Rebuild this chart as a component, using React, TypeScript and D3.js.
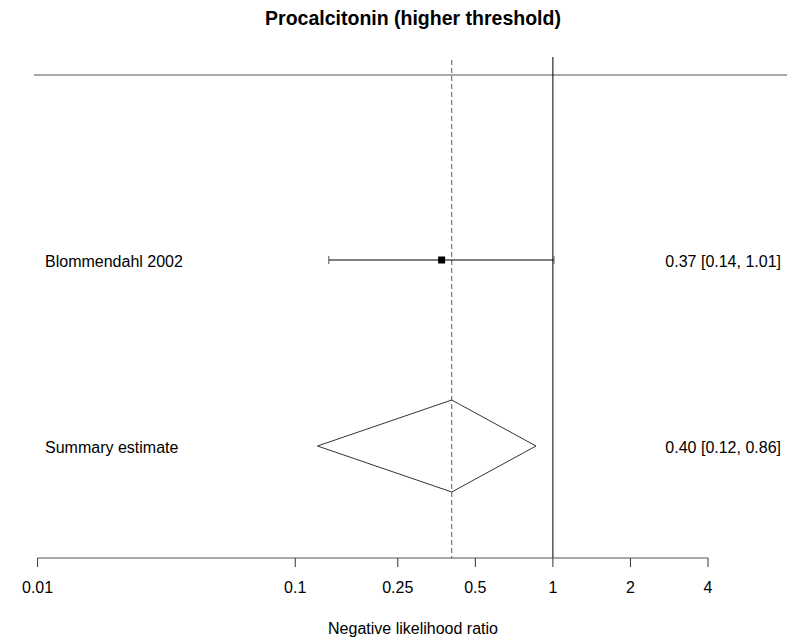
import React from "react";
import * as d3 from "d3";

const studies = ["Blommendahl 2002"];
const estimates = [0.37];
const lowers = [0.135];
const uppers = [1.01];
const labelsRight = ["0.37 [0.14, 1.01]"];
const summaryLabel = "Summary estimate";
const summaryEst = [0.405];
const summaryLow = [0.122];
const summaryHigh = [0.86];
const summaryText = ["0.40 [0.12, 0.86]"];
const tickValues = [0.01, 0.1, 0.25, 0.5, 1, 2, 4];
const tickLabels = ["0.01", "0.1", "0.25", "0.5", "1", "2", "4"];

export default function App() {
  const W = 787, H = 642;
  const x = d3.scaleLog().domain([0.01, 4]).range([37.6, 708]);
  const yRow = d3.scalePoint<string>().domain([...studies, summaryLabel]).range([260, 446]);
  const axisY = 558;
  const font = "Liberation Sans, Arial, sans-serif";
  const sy = yRow(summaryLabel)!;
  const dh = 46;
  const diamond = d3.line()([
    [x(summaryLow[0]), sy],
    [x(summaryEst[0]), sy - dh],
    [x(summaryHigh[0]), sy],
    [x(summaryEst[0]), sy + dh],
    [x(summaryLow[0]), sy],
  ] as [number, number][]);
  return (
    <svg width={W} height={H} style={{ position: "absolute", left: 0, top: 0, background: "#fff" }} fontFamily={font}>
      <text x={413} y={25} textAnchor="middle" fontSize={19.5} fontWeight="bold">Procalcitonin (higher threshold)</text>
      <line x1={34} x2={787} y1={75} y2={75} stroke="#555" strokeWidth={1.2} />
      <line x1={x(1)} x2={x(1)} y1={57} y2={axisY} stroke="#000" strokeWidth={1} />
      <line x1={x(summaryEst[0])} x2={x(summaryEst[0])} y1={60} y2={axisY} stroke="#555" strokeWidth={1} strokeDasharray="5,3" />
      {studies.map((s, i) => {
        const yy = yRow(s)!;
        return (
          <g key={s}>
            <line x1={x(lowers[i])} x2={x(uppers[i])} y1={yy} y2={yy} stroke="#000" strokeWidth={1} />
            <line x1={x(lowers[i])} x2={x(lowers[i])} y1={yy - 4} y2={yy + 4} stroke="#555" />
            <line x1={x(uppers[i])} x2={x(uppers[i])} y1={yy - 4} y2={yy + 4} stroke="#555" />
            <rect x={x(estimates[i]) - 3.5} y={yy - 3.5} width={7} height={7} fill="#000" />
            <text x={45} y={yy + 7} fontSize={16}>{s}</text>
            <text x={781} y={yy + 7} fontSize={16} textAnchor="end">{labelsRight[i]}</text>
          </g>
        );
      })}
      <path d={diamond!} fill="none" stroke="#333" strokeWidth={1} />
      <text x={45} y={sy + 7} fontSize={16}>{summaryLabel}</text>
      <text x={781} y={sy + 7} fontSize={16} textAnchor="end">{summaryText[0]}</text>
      <line x1={x(0.01)} x2={x(4)} y1={axisY} y2={axisY} stroke="#555" strokeWidth={1.2} />
      {tickValues.map((t, i) => (
        <g key={t}>
          <line x1={x(t)} x2={x(t)} y1={axisY} y2={axisY + 9} stroke="#333" />
          <text x={x(t)} y={axisY + 35} fontSize={16} textAnchor="middle">{tickLabels[i]}</text>
        </g>
      ))}
      <text x={413} y={634} fontSize={16} textAnchor="middle">Negative likelihood ratio</text>
    </svg>
  );
}
